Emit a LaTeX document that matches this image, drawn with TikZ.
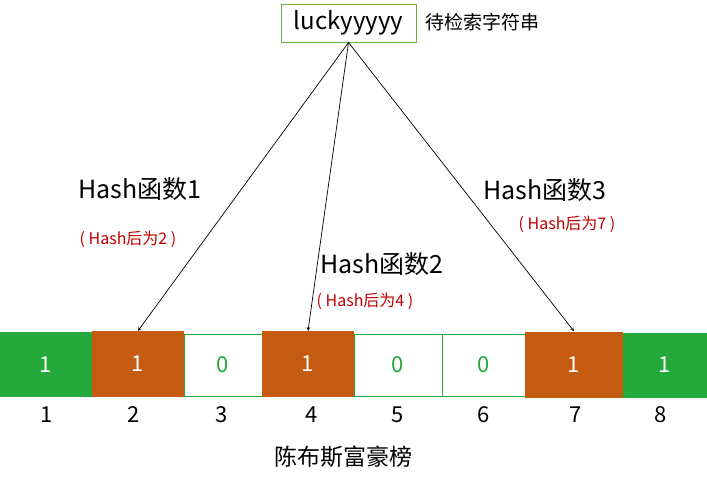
\documentclass[tikz,border=0pt]{standalone}
\usepackage{fontspec}
\setmainfont{Noto Sans CJK SC}
\usetikzlibrary{positioning}
\definecolor{bitgreen}{RGB}{36,170,58}
\definecolor{bitorange}{RGB}{197,90,17}
\definecolor{hashred}{RGB}{192,0,0}
\definecolor{boxolive}{RGB}{112,173,71}
\def\fs#1{\fontsize{#1}{#1}\selectfont}
\tikzset{
  bitone/.style={fill=bitgreen, text=white, inner sep=0, minimum height=65, font=\fs{22}},
  bithit/.style={fill=bitorange, text=white, inner sep=0, minimum height=66, font=\fs{22}},
  bitzero/.style={draw=bitgreen, line width=0.9pt, text=bitgreen, inner sep=0, minimum height=62, font=\fs{22}},
  hashname/.style={font=\fs{25}},
  hashval/.style={text=hashred, font=\fs{16}},
}

\begin{document}
\begin{tikzpicture}[x=1pt,y=-1pt]
  \useasboundingbox (0,0) rectangle (707,485); %画面の大きさ

  % 待检索字符串
  \node[draw=boxolive, line width=1pt, minimum width=135, minimum height=38, inner sep=0, font=\fs{24}] (src) at (348.5,23) {luckyyyyy};
  \node[anchor=west, font=\fs{19}, inner sep=0] (srclabel) at (425,22) {待检索字符串};

  % 位数组
  \node[bitone,  minimum width=92] (c1) at (46,364.5) {1};
  \node[bithit,  minimum width=92] (c2) at (138,364) {1};
  \node[bitzero, minimum width=78] (c3) at (223,365) {0};
  \node[bithit,  minimum width=92] (c4) at (308,364) {1};
  \node[bitzero, minimum width=88] (c5) at (398,365) {0};
  \node[bitzero, minimum width=83] (c6) at (483.5,365) {0};
  \node[bithit,  minimum width=98] (c7) at (574,364.5) {1};
  \node[bitone,  minimum width=84] (c8) at (665,365) {1};

  % 下标
  \node[font=\fs{22}] (i1) at (47,415) {1};
  \node[font=\fs{22}] (i2) at (134,415) {2};
  \node[font=\fs{22}] (i3) at (222,415) {3};
  \node[font=\fs{22}] (i4) at (312,415) {4};
  \node[font=\fs{22}] (i5) at (398,415) {5};
  \node[font=\fs{22}] (i6) at (484,415) {6};
  \node[font=\fs{22}] (i7) at (576,415) {7};
  \node[font=\fs{22}] (i8) at (661,415) {8};

  \node[font=\fs{23}] (title) at (343,457) {陈布斯富豪榜}; %标题

  % Hash函数
  \node[hashname] (h1) at (140,189) {Hash函数1};
  \node[hashval] (v1) at (128,239) {( Hash后为2 )};
  \node[hashname] (h2) at (382,264) {Hash函数2};
  \node[hashval] (v2) at (365,301) {( Hash后为4 )};
  \node[hashname] (h3) at (545,190) {Hash函数3};
  \node[hashval] (v3) at (567,224) {( Hash后为7 )};

  \draw[->,>=stealth,line width=0.7pt] (src.south) -- (c2.north); %→2
  \draw[->,>=stealth,line width=0.7pt] (src.south) -- (c4.north); %→4
  \draw[->,>=stealth,line width=0.7pt] (src.south) -- (c7.north); %→7

\end{tikzpicture}
\end{document}
